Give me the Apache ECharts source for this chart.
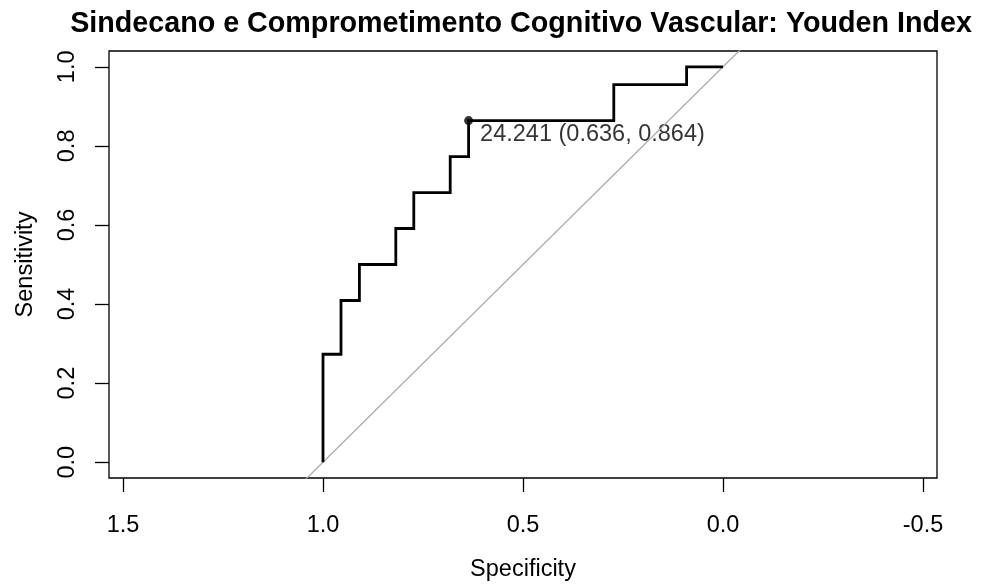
<!DOCTYPE html>
<html>
<head>
<meta charset="utf-8">
<script src="https://cdn.jsdelivr.net/npm/echarts@6/dist/echarts.min.js"></script>
<style>
html,body{margin:0;padding:0;background:#fff;}
#chart{width:981px;height:587px;}
</style>
</head>
<body>
<div id="chart"></div>
<script>
// ROC curve coordinates (specificity, sensitivity)
var specificity = [1.000, 1.000, 0.955, 0.955, 0.909, 0.909, 0.818, 0.818, 0.773, 0.773, 0.682, 0.682, 0.636, 0.636, 0.273, 0.273, 0.091, 0.091, 0.000];
var sensitivity = [0.000, 0.273, 0.273, 0.409, 0.409, 0.500, 0.500, 0.591, 0.591, 0.682, 0.682, 0.773, 0.773, 0.864, 0.864, 0.955, 0.955, 1.000, 1.000];
// Chance diagonal (sensitivity = 1 - specificity), clipped by the plot box
var diagSpecificity = [1.2, -0.2];
var diagSensitivity = [-0.2, 1.2];
// Youden best threshold
var bestThreshold = [24.241];
var bestSpecificity = [0.636];
var bestSensitivity = [0.864];
// Tick labels
var xTicks = [1.5, 1.0, 0.5, 0.0, -0.5];
var yTicks = [0.0, 0.2, 0.4, 0.6, 0.8, 1.0];

var FONT = "'Liberation Sans', Arial, Helvetica, sans-serif";

var rocData = specificity.map(function (s, i) { return [s, sensitivity[i]]; });
var diagData = diagSpecificity.map(function (s, i) { return [s, diagSensitivity[i]]; });
var bestData = bestSpecificity.map(function (s, i) { return [s, bestSensitivity[i], bestThreshold[i]]; });

var chart = echarts.init(document.getElementById('chart'), null, {renderer: 'canvas'});
chart.setOption({
  animation: false,
  backgroundColor: '#ffffff',
  title: {
    text: 'Sindecano e Comprometimento Cognitivo Vascular: Youden Index',
    left: 516,
    textAlign: 'center',
    top: 5,
    textStyle: {fontFamily: FONT, fontWeight: 'bold', fontSize: 28.7, color: '#000'}
  },
  grid: {
    left: 109, top: 51, width: 828, height: 432,
    show: true, borderColor: '#000', borderWidth: 1.3, backgroundColor: 'transparent',
    containLabel: false
  },
  xAxis: {
    type: 'value', inverse: true, min: -0.535, max: 1.535, position: 'bottom',
    name: 'Specificity', nameLocation: 'middle', nameGap: 80,
    nameTextStyle: {fontFamily: FONT, fontSize: 23.5, color: '#000'},
    axisLine: {show: false, onZero: false},
    splitLine: {show: false},
    axisTick: {show: true, inside: false, length: 14, customValues: xTicks, lineStyle: {color: '#000', width: 1.3}},
    axisLabel: {show: true, customValues: xTicks, margin: 36, fontFamily: FONT, fontSize: 23.5, color: '#000',
      formatter: function (v) { return v.toFixed(1); }}
  },
  yAxis: {
    type: 'value', min: -0.04, max: 1.04, position: 'left',
    name: 'Sensitivity', nameLocation: 'middle', nameGap: 71, nameRotate: 90,
    nameTextStyle: {fontFamily: FONT, fontSize: 23.5, color: '#000'},
    axisLine: {show: false, onZero: false},
    splitLine: {show: false},
    axisTick: {show: true, inside: false, length: 14, customValues: yTicks, lineStyle: {color: '#000', width: 1.3}},
    axisLabel: {show: true, customValues: yTicks, rotate: 90, margin: 29, fontFamily: FONT, fontSize: 23.5, color: '#000',
      formatter: function (v) { return v.toFixed(1); }}
  },
  series: [
    {
      type: 'line', data: diagData, symbol: 'none', clip: true, silent: true,
      lineStyle: {color: '#aaaaaa', width: 1.3}
    },
    {
      type: 'line', data: rocData, symbol: 'none', clip: true, silent: true,
      lineStyle: {color: '#000', width: 2.8, join: 'miter'}
    },
    {
      type: 'scatter', data: bestData, symbol: 'circle', symbolSize: 9, silent: true,
      itemStyle: {color: '#000'},
      label: {
        show: true, position: 'right', distance: 7, offset: [0, 14],
        fontFamily: FONT, fontSize: 23.5, color: '#000',
        formatter: function (p) {
          return p.value[2].toFixed(3) + ' (' + p.value[0].toFixed(3) + ', ' + p.value[1].toFixed(3) + ')';
        }
      }
    }
  ]
});
</script>
</body>
</html>
